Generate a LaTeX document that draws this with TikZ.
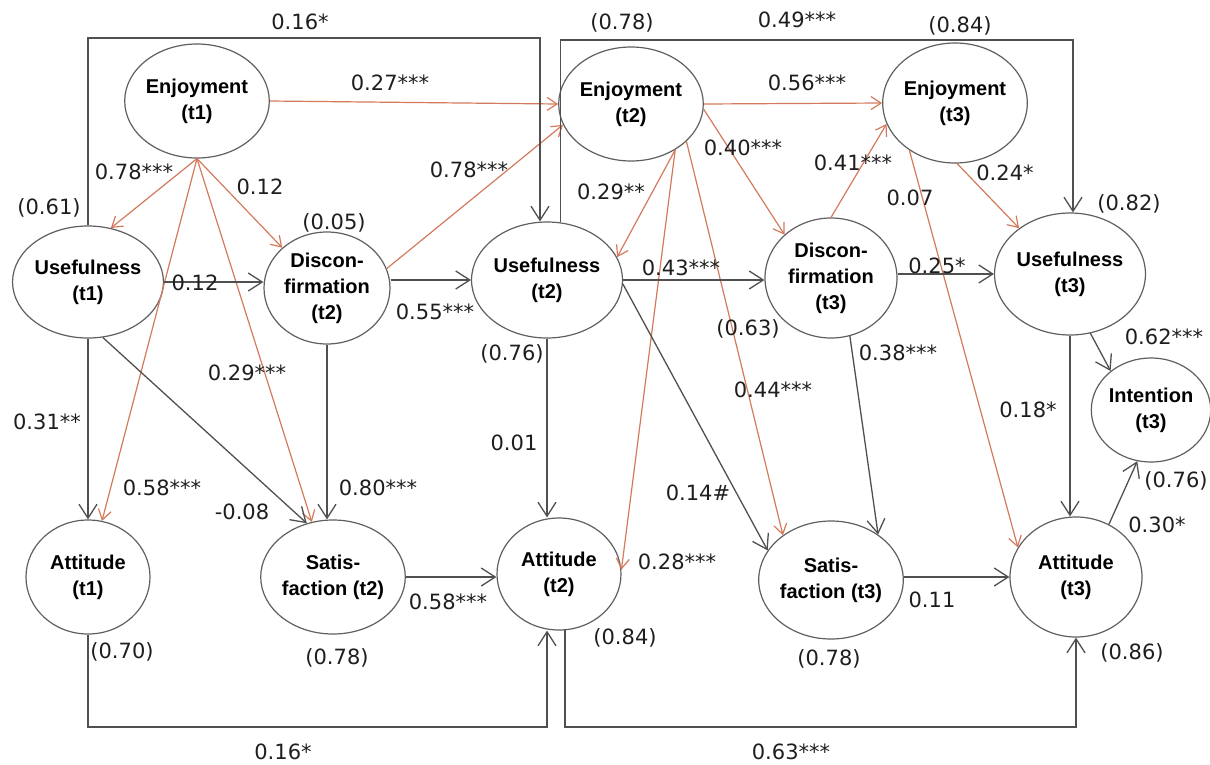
\documentclass[tikz,border=0pt]{standalone}
\usepackage{fontspec}
\setmainfont{Liberation Sans}
\newfontfamily\numfamily{DejaVu Sans}
\usetikzlibrary{shapes.geometric,arrows.meta}
\definecolor{edgegray}{RGB}{80,80,80}
\definecolor{rimgray}{RGB}{95,95,95}
\definecolor{pathred}{RGB}{212,122,92}
\definecolor{numtext}{RGB}{30,30,30}
\begin{document}
\begin{tikzpicture}[x=1pt,y=-1pt,
  latent/.style={ellipse, draw=rimgray, line width=1.2pt, inner sep=0pt, align=center,
    font=\bfseries\fontsize{20}{26}\selectfont},
  sz/.style 2 args={minimum width=#1pt, minimum height=#2pt},
  kpath/.style={draw=edgegray, line width=1.3pt, -{Straight Barb[length=14pt,width=18pt]}},
  rpath/.style={draw=pathred, line width=1.2pt, -{Straight Barb[length=10pt,width=13pt]}},
  coef/.style={font=\numfamily\fontsize{21}{24}\selectfont, text=numtext, inner sep=0pt,
    text height=15pt, text depth=0pt}]
\useasboundingbox (0,0) rectangle (1210,764);

% latent variables
\node[latent, sz={126}{114}] (e1) at (197,101) {Enjoyment\\(t1)};
\node[latent, sz={126}{114}] (e2) at (631,104) {Enjoyment\\(t2)};
\node[latent, sz={132}{120}] (e3) at (955,103) {Enjoyment\\(t3)};
\node[latent, sz={126}{112}] (u1) at (88,282) {Usefulness\\(t1)};
\node[latent, sz={126}{112}] (d2) at (327,288) {Discon-\\firmation\\(t2)};
\node[latent, sz={124}{116}] (u2) at (547,280) {Usefulness\\(t2)};
\node[latent, sz={132}{120}] (d3) at (831,278) {Discon-\\firmation\\(t3)};
\node[latent, sz={132}{122}] (u3) at (1070,274) {Usefulness\\(t3)};
\node[latent, sz={118}{104}] (in3) at (1151,410) {Intention\\(t3)};
\node[latent, sz={124}{114}] (a1) at (88,577) {Attitude\\(t1)};
\node[latent, sz={124}{114}] (s2) at (333,577) {Satis-\\faction (t2)};
\node[latent, sz={124}{112}] (a2) at (559,574) {Attitude\\(t2)};
\node[latent, sz={132}{118}] (s3) at (831,580) {Satis-\\faction (t3)};
\node[latent, sz={132}{120}] (a3) at (1076,577) {Attitude\\(t3)};

% enjoyment paths
\draw[rpath] (e1.east) -- (e2.west);
\draw[rpath] (e2.east) -- (e3.west);
\draw[rpath] (e1.south) -- (u1.67);
\draw[rpath] (e1.south) -- (d2.138);
\draw[rpath] (e1.south) -- (a1.76);
\draw[rpath] (e1.south) -- (s2.111);
\draw[rpath] (d2.18) -- (e2.197);
\draw[rpath] (e2.-46) -- (u2.18);
\draw[rpath] (e2.-46) -- (a2.4);
\draw[rpath] (e2.-34) -- (s3.137);
\draw[rpath] (e2.-4) -- (d3.137);
\draw[rpath] (d3.north) -- (e3.197);
\draw[rpath] (e3.-88) -- (u3.138);
\draw[rpath] (e3.-134) -- (a3.153);

% other structural paths
\draw[kpath] (u1.east) -- (u1.east -| d2.west);
\draw[kpath] (u1.south) -- (a1.north);
\draw[kpath] (u1.-75) -- (s2.116);
\draw[kpath] (d2.south) -- (d2.south |- s2.north);
\draw[kpath] (d2.east |- u2.west) -- (u2.west);
\draw[kpath] (u2.south) -- (u2.south |- a2.north);
\draw[kpath] (s2.east) -- (s2.east -| a2.west);
\draw[kpath] (u2.east) -- (u2.east -| d3.west);
\draw[kpath] (u2.-3) -- (s3.155);
\draw[kpath] (d3.-72) -- (s3.44);
\draw[kpath] (d3.east |- u3.west) -- (u3.west);
\draw[kpath] (u3.south) -- (u3.south |- a3.north);
\draw[kpath] (u3.-71) -- (in3.136);
\draw[kpath] (a3.58) -- (in3.-105);
\draw[kpath] (s3.east |- a3.west) -- (a3.west);

% lagged paths around the model
\coordinate (top1) at (540,38);
\draw[kpath] (u1.north) |- (top1) -- (top1 |- u2.north);
\coordinate (top2) at (1073,40);
\draw[kpath] (u2.77) |- (top2) -- (top2 |- u3.north);
\coordinate (bot1) at (547,727);
\draw[kpath] (a1.south) |- (bot1) -- (bot1 |- a2.south);
\coordinate (bot2) at (1076,727);
\draw[kpath] (a2.-84) |- (bot2) -- (a3.south);

% coefficients and explained variance
\node[coef] (c01) at (300,22) {0.16*};
\node[coef] (c02) at (622,22) {(0.78)};
\node[coef] (c03) at (797,20) {0.49***};
\node[coef] (c04) at (960,25) {(0.84)};
\node[coef] (c05) at (390,83) {0.27***};
\node[coef] (c06) at (807,83) {0.56***};
\node[coef] (c07) at (134,172) {0.78***};
\node[coef] (c08) at (260,187) {0.12};
\node[coef] (c09) at (49,207) {(0.61)};
\node[coef] (c10) at (334,222) {(0.05)};
\node[coef] (c11) at (469,170) {0.78***};
\node[coef] (c12) at (611,192) {0.29**};
\node[coef] (c13) at (743,148) {0.40***};
\node[coef] (c14) at (853,163) {0.41***};
\node[coef] (c15) at (910,198) {0.07};
\node[coef] (c16) at (1005,173) {0.24*};
\node[coef] (c17) at (1129,203) {(0.82)};
\node[coef] (c18) at (195,283) {0.12};
\node[coef] (c19) at (435,312) {0.55***};
\node[coef] (c20) at (681,268) {0.43***};
\node[coef] (c21) at (937,266) {0.25*};
\node[coef] (c22) at (512,353) {(0.76)};
\node[coef] (c23) at (748,328) {(0.63)};
\node[coef] (c24) at (898,353) {0.38***};
\node[coef] (c25) at (1164,337) {0.62***};
\node[coef] (c26) at (247,373) {0.29***};
\node[coef] (c27) at (773,390) {0.44***};
\node[coef] (c28) at (1028,410) {0.18*};
\node[coef] (c29) at (47,422) {0.31**};
\node[coef] (c30) at (514,443) {0.01};
\node[coef] (c31) at (1176,480) {(0.76)};
\node[coef] (c32) at (162,488) {0.58***};
\node[coef] (c33) at (378,488) {0.80***};
\node[coef] (c34) at (698,493) {0.14\#};
\node[coef] (c35) at (242,512) {-0.08};
\node[coef] (c36) at (1157,525) {0.30*};
\node[coef] (c37) at (677,562) {0.28***};
\node[coef] (c38) at (932,600) {0.11};
\node[coef] (c39) at (448,602) {0.58***};
\node[coef] (c40) at (625,637) {(0.84)};
\node[coef] (c41) at (122,651) {(0.70)};
\node[coef] (c42) at (1132,652) {(0.86)};
\node[coef] (c43) at (337,657) {(0.78)};
\node[coef] (c44) at (829,658) {(0.78)};
\node[coef] (c45) at (283,752) {0.16*};
\node[coef] (c46) at (791,752) {0.63***};
\end{tikzpicture}
\end{document}
